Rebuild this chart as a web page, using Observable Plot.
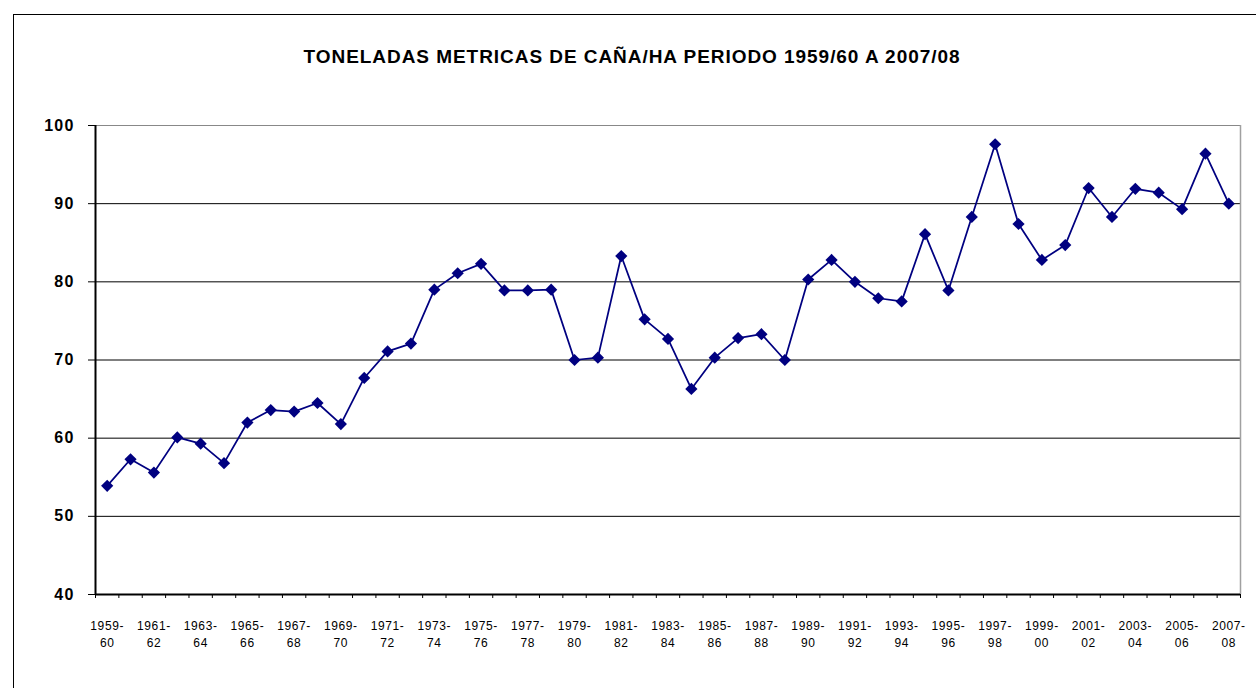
<!DOCTYPE html>
<html>
<head>
<meta charset="utf-8">
<script src="https://cdn.jsdelivr.net/npm/d3@7"></script>
<script src="https://cdn.jsdelivr.net/npm/@observablehq/plot@0.6"></script>
<style>
  html, body { margin: 0; padding: 0; overflow: hidden; background: #fff; }
  #wrap { position: relative; width: 1256px; height: 688px; overflow: hidden; background: #fff; }
  #wrap svg { position: absolute; left: 0; top: 0; }
  #border { position: absolute; left: 13px; top: 14px; width: 1400px; height: 900px; border: 1px solid #000; box-sizing: border-box; }
  #title { position: absolute; left: 0; top: 47px; width: 1264px; text-align: center;
    font: bold 19px Arial, "Liberation Sans", sans-serif; line-height: 19px; letter-spacing: 0.95px; color: #000; }
  g[aria-label="x-axis tick label"] text { letter-spacing: 0.6px; }
  g[aria-label="y-axis tick label"] text { letter-spacing: 1.2px; }
</style>
</head>
<body>
<div id="wrap">
  <div id="title">TONELADAS METRICAS DE CAÑA/HA PERIODO 1959/60 A 2007/08</div>
</div>
<script>
const seasons = [
  "1959-60","1960-61","1961-62","1962-63","1963-64","1964-65","1965-66","1966-67","1967-68","1968-69",
  "1969-70","1970-71","1971-72","1972-73","1973-74","1974-75","1975-76","1976-77","1977-78","1978-79",
  "1979-80","1980-81","1981-82","1982-83","1983-84","1984-85","1985-86","1986-87","1987-88","1988-89",
  "1989-90","1990-91","1991-92","1992-93","1993-94","1994-95","1995-96","1996-97","1997-98","1998-99",
  "1999-00","2000-01","2001-02","2002-03","2003-04","2004-05","2005-06","2006-07","2007-08"
];
const yields = [
  53.9, 57.3, 55.6, 60.1, 59.3, 56.8, 62.0, 63.6, 63.4, 64.5,
  61.8, 67.7, 71.1, 72.1, 79.0, 81.1, 82.3, 78.9, 78.9, 79.0,
  70.0, 70.3, 83.3, 75.2, 72.7, 66.3, 70.3, 72.8, 73.3, 70.0,
  80.3, 82.8, 80.0, 77.9, 77.5, 86.1, 78.9, 88.3, 97.6, 87.4,
  82.8, 84.7, 92.0, 88.3, 91.9, 91.4, 89.3, 96.4, 90.0
];
const yTicks = [40, 50, 60, 70, 80, 90, 100];

const data = seasons.map((s, i) => ({i, season: s, value: yields[i]}));
const n = seasons.length;
const labelIdx = d3.range(0, n, 2);
const boundaries = d3.range(0, n + 1).map(k => k - 0.5);

const chart = Plot.plot({
  width: 1256,
  height: 688,
  marginLeft: 95,
  marginRight: 16,
  marginTop: 125,
  marginBottom: 94,
  style: {fontFamily: "Arial, 'Liberation Sans', sans-serif", background: "transparent", color: "#000"},
  x: {domain: [-0.5, n - 0.5]},
  y: {domain: [40, 100]},
  marks: [
    Plot.ruleY(yTicks.filter(v => v > 40 && v < 100), {stroke: "#000", strokeWidth: 1}),
    Plot.ruleY([100], {stroke: "#888", strokeWidth: 1}),
    Plot.ruleX([n - 0.5], {stroke: "#a0a0a0", strokeWidth: 1.5}),
    Plot.axisY({ticks: yTicks, tickSize: 7, tickPadding: 14, fontSize: 16, fontWeight: "bold", label: null, tickFormat: d => d}),
    Plot.axisX({ticks: boundaries, tickSize: 4, tickFormat: () => "", label: null}),
    Plot.axisX({ticks: labelIdx, tickSize: 0, tickPadding: 24, fontSize: 12, lineHeight: 1.4,
      tickFormat: i => seasons[Math.round(i)].replace("-", "-\n"), label: null}),
    Plot.ruleX([-0.5], {stroke: "#000", strokeWidth: 2}),
    Plot.ruleY([40], {stroke: "#000", strokeWidth: 2}),
    Plot.line(data, {x: "i", y: "value", stroke: "#000080", strokeWidth: 1.75}),
    Plot.dot(data, {x: "i", y: "value", symbol: "diamond2", r: 5.5, fill: "#000080", stroke: "none"})
  ]
});
const wrap = document.getElementById("wrap");
wrap.insertBefore(chart, wrap.firstChild);
const border = document.createElement("div");
border.id = "border";
wrap.appendChild(border);
</script>
</body>
</html>
